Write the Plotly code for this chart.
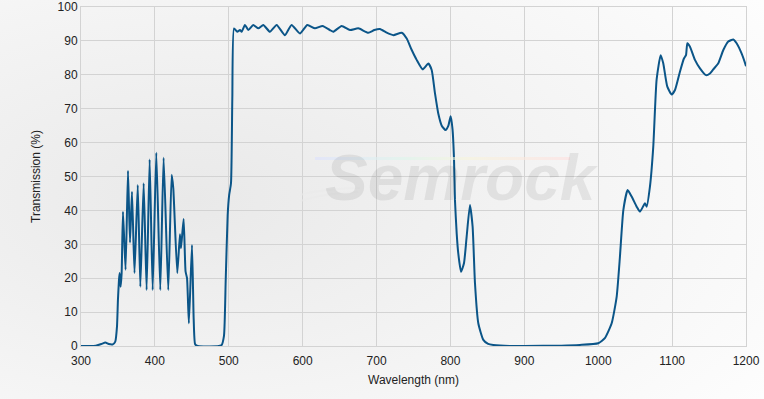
import base64
import plotly.graph_objects as go

# Wavelength (nm) and transmission (%)
wavelength = [
    300, 310, 320, 327.5, 333, 337.5, 343, 346.4, 348.7, 350, 351.4, 352.3, 353.6, 355,
    356.8, 360.3, 363.6, 366.3, 369, 372.4, 376.8, 380.3, 384.8, 388.8, 392.9, 397,
    401.9, 407.3, 411.8, 418.1, 422.7, 424.9, 430.3, 433.9, 435.3, 438.9, 441.5, 443.5,
    446, 450.2, 452.5, 454.5, 458, 490, 493.5, 495.8, 498.5, 500.5, 503, 504.8, 507.1,
    511.5, 515.1, 517.4, 521.9, 526.4, 533.2, 540, 546.7, 555.7, 564.8, 576, 585, 596.3,
    606.3, 616.6, 627, 636.9, 641.4, 652.7, 664, 675.3, 688.8, 697, 704.6, 713, 722.7,
    734, 740.8, 747.6, 754.3, 762.4, 770.1, 774.6, 779.1, 783.6, 788.2, 793.4, 797.2,
    800.3, 802.8, 804.8, 806.1, 808.5, 810.6, 814.3, 818.3, 821.9, 826.4, 830, 833.2,
    837.7, 844.5, 851, 858, 880, 900, 950, 975, 1000, 1009, 1018.2, 1025, 1029.4, 1034,
    1039.8, 1045.2, 1052, 1056.5, 1063.3, 1065.5, 1070, 1074.5, 1079, 1084.5, 1088,
    1093.5, 1099.4, 1103.9, 1110.6, 1116, 1118.8, 1120.6, 1124.2, 1130.9, 1137.7,
    1145.8, 1151.2, 1155.7, 1162.5, 1169.3, 1176, 1182.8, 1187.3, 1194, 1199.5, 1200,
]
transmission = [
    0, 0, 0.1, 0.6, 1.0, 0.6, 0.5, 1.3, 5.7, 13.6, 19.5, 21.5, 17.5, 21.5,
    39.6, 22.5, 51.7, 30.5, 45.5, 21.5, 47.5, 17.5, 48, 16.5, 55, 16.5,
    57, 16.5, 55.5, 16.5, 50.5, 46.5, 21.5, 33, 28.8, 37.5, 22, 20,
    6.7, 29.8, 8, 0.5, 0, 0.2, 3, 19, 38.6, 44.5, 48, 73, 93.7,
    92.7, 93.2, 92.7, 94.7, 93.2, 94.7, 93.7, 94.7, 92.7, 94.7, 91.7, 94.7, 92.2,
    94.7, 93.7, 94.4, 93.2, 92.7, 94.4, 93.2, 93.7, 92.4, 93.2, 93.5, 92.5, 91.7,
    92.4, 90.7, 87.3, 84.4, 81.6, 83.3, 81.4, 74.5, 68.5, 65, 63.7, 65,
    67.8, 64, 55.4, 43.1, 33, 27.3, 21.9, 24.4, 32.2, 41.6, 35.2, 18.5,
    6.7, 1.8, 0.6, 0.3, 0, 0, 0.1, 0.3, 0.8, 2.3, 6.7, 14.6, 26.4, 40.1,
    46, 44.1, 41.1, 39.6, 42.1, 41.1, 47, 58.8, 78.5, 85.8, 83.4,
    76.5, 74.2, 75.5, 80.9, 84.8, 85.8, 89.3, 88.3, 84.4, 81.9,
    79.9, 80.4, 81.6, 83.4, 87.3, 89.8, 90.4, 89.3, 86.3, 82.9, 82.5,
]

x_title = "Wavelength (nm)"
y_title = "Transmission (%)"
watermark = "Semrock"

W, H = 764, 399
ML, MR, MT, MB = 81, 18, 7, 53
PW, PH = W - ML - MR, H - MT - MB

bg_svg = (
    f'<svg xmlns="http://www.w3.org/2000/svg" width="{W}" height="{H}" preserveAspectRatio="none">'
    '<defs><radialGradient id="g" cx="0.25" cy="0.5" r="0.9">'
    '<stop offset="0" stop-color="#e9e9e9"/><stop offset="1" stop-color="#fdfdfd"/>'
    '</radialGradient></defs>'
    f'<rect width="{W}" height="{H}" fill="url(#g)"/></svg>'
)
bg_uri = "data:image/svg+xml;base64," + base64.b64encode(bg_svg.encode()).decode()

# faint rainbow bar and swoosh of the watermark logo (decoration, 300x50 box)
logo_svg = (
    '<svg xmlns="http://www.w3.org/2000/svg" width="300" height="50" preserveAspectRatio="none">'
    '<defs><linearGradient id="r" x1="0" x2="1" y1="0" y2="0">'
    '<stop offset="0" stop-color="#dde2ff"/><stop offset="0.35" stop-color="#ddf6ec"/>'
    '<stop offset="0.6" stop-color="#f8f5dc"/><stop offset="1" stop-color="#ffe0e0"/>'
    '</linearGradient></defs>'
    '<rect x="15" y="2" width="255" height="3" fill="url(#r)"/>'
    '<path d="M0 40 Q20 34 60 33" stroke="#ebebeb" stroke-width="2" fill="none"/>'
    '<path d="M0 46 Q25 38 58 37" stroke="#ebebeb" stroke-width="2" fill="none"/>'
    '</svg>'
)
logo_uri = "data:image/svg+xml;base64," + base64.b64encode(logo_svg.encode()).decode()

fig = go.Figure()
fig.add_trace(go.Scatter(
    x=wavelength, y=transmission, mode="lines",
    line=dict(color="#0b5588", width=2, shape="spline", smoothing=0.5),
    hoverinfo="x+y", showlegend=False,
))

font = "Liberation Sans, Arial, sans-serif"
fig.update_layout(
    width=W, height=H,
    margin=dict(l=ML, r=MR, t=MT, b=MB, autoexpand=False),
    paper_bgcolor="#f6f6f6",
    plot_bgcolor="white",
    font=dict(family=font, size=12, color="#222"),
    xaxis=dict(
        range=[300, 1200], dtick=100, tick0=300,
        showgrid=True, gridcolor="#d3d3d3", gridwidth=1,
        showline=True, linecolor="#d3d3d3", mirror=True,
        zeroline=False, ticks="", ticklabelstandoff=4,
        tickfont=dict(size=12, color="#222"),
        title=dict(text=x_title, font=dict(size=12, color="#222"), standoff=8),
    ),
    yaxis=dict(
        range=[0, 100], dtick=10,
        showgrid=True, gridcolor="#d3d3d3", gridwidth=1,
        showline=True, linecolor="#d3d3d3", mirror=True,
        zeroline=False, ticks="",
        tickfont=dict(size=12, color="#222"),
        title=dict(text=y_title, font=dict(size=12, color="#222"), standoff=14),
    ),
    images=[
        dict(
            source=bg_uri, xref="paper", yref="paper",
            x=-ML / PW, y=1 + MT / PH, sizex=W / PW, sizey=H / PH,
            xanchor="left", yanchor="top", sizing="stretch", layer="below",
        ),
        dict(
            source=logo_uri, xref="paper", yref="paper",
            x=(300 - ML) / PW, y=(MT + PH - 155) / PH, sizex=300 / PW, sizey=50 / PH,
            xanchor="left", yanchor="top", sizing="stretch", layer="above", opacity=0.6,
        ),
    ],
    annotations=[dict(
        text=watermark, xref="paper", yref="paper",
        x=(462 - ML) / PW, y=(MT + PH - 178) / PH,
        showarrow=False,
        font=dict(family=font, size=64, color="rgba(0,0,0,0.07)",
                  style="italic", weight="bold"),
    )],
)

fig.write_html(
    "out.html",
    config={"displayModeBar": False},
    post_script="document.body.style.margin='0';document.body.style.overflow='hidden';",
)
